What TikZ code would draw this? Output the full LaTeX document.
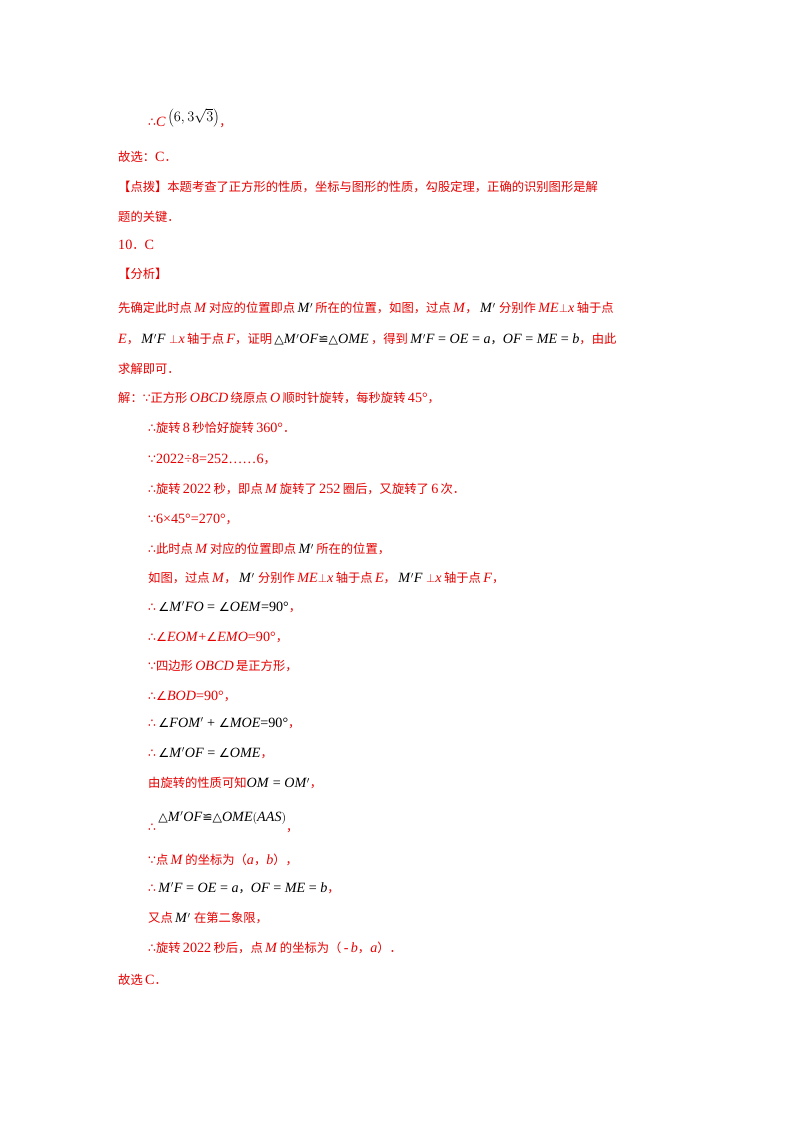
\documentclass[tikz,border=0pt]{standalone}
\usepackage{fontspec}
\setmainfont[Scale=1.15]{Liberation Serif}
\newfontfamily\cjk{Noto Sans CJK SC}
\newfontfamily\dvs{DejaVu Sans}
\newcommand{\zh}[1]{{\cjk #1}}
\newcommand{\sym}[1]{{\dvs #1}}
\newcommand{\im}[1]{\textit{#1}}
\newcommand{\blk}[1]{{\color{black}#1}}
\definecolor{rd}{RGB}{230,0,0}
\begin{document}
\begin{tikzpicture}[x=1pt,y=1pt,
  t/.style={anchor=west,inner sep=0pt,font=\fontsize{12.3}{14}\selectfont,text=rd}]
\useasboundingbox (0,0) rectangle (800,-1132);
\node[t] (l1) at (148,-118) {\sym{∴}\im{C}\,\blk{\raisebox{5pt}{\fontsize{14}{16}\selectfont$\left(6,3\sqrt{3}\right)$}}\zh{，}};
\node[t] (l2) at (118,-157) {\zh{故选：}C\zh{．}};
\node[t] (l3) at (118,-187) {\zh{【点拨】本题考查了正方形的性质，坐标与图形的性质，勾股定理，正确的识别图形是解}};
\node[t] (l4) at (118,-217) {\zh{题的关键．}};
\node[t] (l5) at (118,-245) {10\zh{．}C};
\node[t] (l6) at (118,-274) {\zh{【分析】}};
\node[t] (l7) at (118,-308) {\zh{先确定此时点}\,\im{M}\,\zh{对应的位置即点}\,\blk{\im{M}$'$}\,\zh{所在的位置，如图，过点}\,\im{M}\zh{，}\,\blk{\im{M}$'$} \zh{分别作}\,\im{ME}$\perp$\im{x}\,\zh{轴于点}};
\node[t] (l8) at (118,-339) {\im{E}\zh{，}\,\blk{\im{M}$'$\im{F}} $\perp$\im{x}\,\zh{轴于点}\,\im{F}\zh{，证明}\,\blk{\sym{△}\im{M}$'$\im{OF}\sym{≌}\sym{△}\im{OME}}\,\zh{，得到}\,\blk{\im{M}$'$\im{F} = \im{OE} = \im{a}\zh{，}\im{OF} = \im{ME} = \im{b}}\zh{，由此}};
\node[t] (l9) at (118,-369) {\zh{求解即可．}};
\node[t] (l10) at (118,-398) {\zh{解：}\sym{∵}\zh{正方形}\,\im{OBCD}\,\zh{绕原点}\,\im{O}\,\zh{顺时针旋转，每秒旋转}\,45°\zh{，}};
\node[t] (l11) at (148,-428) {\sym{∴}\zh{旋转}\,8\,\zh{秒恰好旋转}\,360°\zh{．}};
\node[t] (l12) at (148,-459) {\sym{∵}2022÷8=252……6\zh{，}};
\node[t] (l13) at (148,-489) {\sym{∴}\zh{旋转}\,2022\,\zh{秒，即点}\,\im{M}\,\zh{旋转了}\,252\,\zh{圈后，又旋转了}\,6\,\zh{次．}};
\node[t] (l14) at (148,-519) {\sym{∵}6×45°=270°\zh{，}};
\node[t] (l15) at (148,-549) {\sym{∴}\zh{此时点}\,\im{M}\,\zh{对应的位置即点}\,\blk{\im{M}$'$}\,\zh{所在的位置，}};
\node[t] (l16) at (148,-578) {\zh{如图，过点}\,\im{M}\zh{，}\,\blk{\im{M}$'$} \zh{分别作}\,\im{ME}$\perp$\im{x}\,\zh{轴于点}\,\im{E}\zh{，}\,\blk{\im{M}$'$\im{F}} $\perp$\im{x}\,\zh{轴于点}\,\im{F}\zh{，}};
\node[t] (l17) at (148,-607) {\sym{∴}\,\blk{\sym{∠}\im{M}$'$\im{FO} = \sym{∠}\im{OEM}=90°}\zh{，}};
\node[t] (l18) at (148,-637) {\sym{∴∠}\im{EOM}+\sym{∠}\im{EMO}=90°\zh{，}};
\node[t] (l19) at (148,-666) {\sym{∵}\zh{四边形}\,\im{OBCD}\,\zh{是正方形，}};
\node[t] (l20) at (148,-696) {\sym{∴∠}\im{BOD}=90°\zh{，}};
\node[t] (l21) at (148,-723) {\sym{∴}\,\blk{\sym{∠}\im{FOM}$'$ + \sym{∠}\im{MOE}=90°}\zh{，}};
\node[t] (l22) at (148,-753) {\sym{∴}\,\blk{\sym{∠}\im{M}$'$\im{OF} = \sym{∠}\im{OME}}\zh{，}};
\node[t] (l23) at (148,-783) {\zh{由旋转的性质可知}\blk{\im{OM} = \im{OM}$'$}\zh{，}};
\node[t] (l24) at (148,-822) {\sym{∴}\,\raisebox{10pt}{\blk{\sym{△}\im{M}$'$\im{OF}\sym{≌}\sym{△}\im{OME}$\left(\textit{AAS}\right)$}}\zh{，}};
\node[t] (l25) at (148,-860) {\sym{∵}\zh{点}\,\im{M}\,\zh{的坐标为（}\im{a}\zh{，}\im{b}\zh{），}};
\node[t] (l26) at (148,-888) {\sym{∴}\,\blk{\im{M}$'$\im{F} = \im{OE} = \im{a}\zh{，}\im{OF} = \im{ME} = \im{b}}\zh{，}};
\node[t] (l27) at (148,-918) {\zh{又点}\,\blk{\im{M}$'$} \zh{在第二象限，}};
\node[t] (l28) at (148,-948) {\sym{∴}\zh{旋转}\,2022\,\zh{秒后，点}\,\im{M}\,\zh{的坐标为（}\,-\,\im{b}\zh{，}\im{a}\zh{）．}};
\node[t] (l29) at (118,-980) {\zh{故选}\,C\zh{．}};
\end{tikzpicture}
\end{document}
